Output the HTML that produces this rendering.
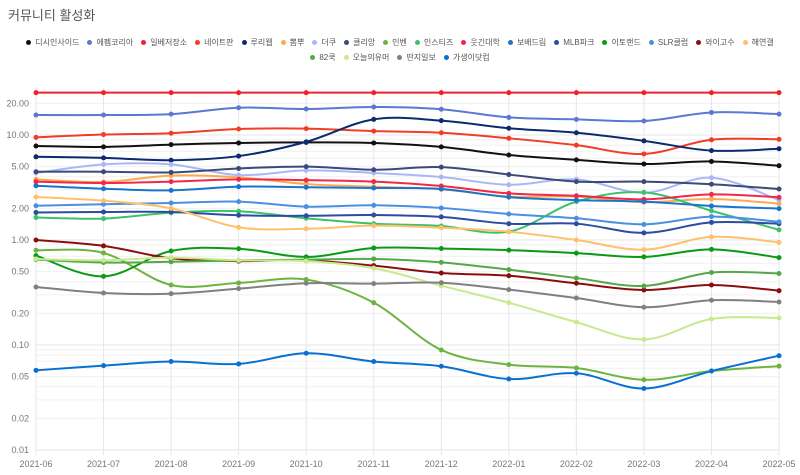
<!DOCTYPE html>
<html><head><meta charset="utf-8">
<style>
body{margin:0;background:#fff;font-family:"Liberation Sans","Noto Sans CJK KR",sans-serif;}
#wrap{position:relative;width:800px;height:475px;overflow:hidden;}
#title{position:absolute;left:8px;top:5px;font-size:13px;color:#555;}
.legrow{position:absolute;left:0;width:800px;display:flex;justify-content:center;gap:8px;font-size:8px;color:#555;}
.li{display:flex;align-items:center;gap:4px;white-space:nowrap;cursor:pointer;}
.dot{width:5px;height:5px;border-radius:50%;display:inline-block;}
</style></head><body>
<div id="wrap">
<div id="title">커뮤니티 활성화</div>
<div class="legrow" id="leg1" style="top:37px"></div>
<div class="legrow" id="leg2" style="top:52px"></div>
<svg id="svg" width="800" height="475" style="position:absolute;left:0;top:0"></svg>
</div>
<script>
const categories=["2021-06","2021-07","2021-08","2021-09","2021-10","2021-11","2021-12","2022-01","2022-02","2022-03","2022-04","2022-05"];
const seriesNames=["디시인사이드","에펨코리아","일베저장소","네이트판","루리웹","뽐뿌","더쿠","클리앙","인벤","인스티즈","웃긴대학","보배드림","MLB파크","이토랜드","SLR클럽","와이고수","해연갤","82쿡","오늘의유머","딴지일보","가생이닷컴"];
const seriesColors=["#111111","#5b78d2","#f0202f","#f23d26","#0b2a6f","#ffa94d","#a9b8f5","#3b4a7a","#6db33f","#3cc26a","#f0284a","#1a74c9","#2c4ca0","#0a9a14","#4a90e2","#8b0e0e","#ffc06b","#55a84a","#c8ea8c","#808080","#0a70d0"];
const vDc=[7.86,7.7,8.1,8.4,8.5,8.4,7.7,6.45,5.8,5.3,5.6,5.1];
const vFm=[15.5,15.5,15.8,18.2,17.7,18.5,17.6,14.7,14.1,13.6,16.4,15.8];
const vIlbe=[25.3,25.3,25.3,25.3,25.3,25.3,25.3,25.3,25.3,25.3,25.3,25.3];
const vPann=[9.5,10.1,10.4,11.4,11.5,10.9,10.5,9.3,8.0,6.6,9.0,9.1];
const vRuli=[6.2,6.05,5.75,6.3,8.6,14.1,13.7,11.6,10.5,8.8,7.1,7.4];
const vPpom=[3.78,3.57,4.1,3.95,3.41,3.22,3.04,2.59,2.59,2.29,2.46,2.22];
const vTheqoo=[4.35,5.25,5.25,4.15,4.6,4.35,3.98,3.36,3.78,2.82,3.92,2.4];
const vClien=[4.47,4.47,4.4,4.8,5.0,4.67,4.95,4.2,3.6,3.6,3.4,3.06];
const vInven=[0.798,0.752,0.373,0.39,0.42,0.253,0.0897,0.065,0.0604,0.0467,0.0565,0.063];
const vInstiz=[1.64,1.6,1.82,1.88,1.61,1.43,1.36,1.2,2.32,2.84,1.9,1.25];
const vHumor=[3.6,3.49,3.6,3.78,3.72,3.6,3.27,2.78,2.64,2.44,2.72,2.55];
const vBobae=[3.29,3.08,2.97,3.22,3.18,3.13,3.06,2.56,2.4,2.32,2.11,1.99];
const vMlb=[1.83,1.85,1.85,1.72,1.7,1.73,1.66,1.43,1.43,1.17,1.47,1.43];
const vEto=[0.71,0.45,0.786,0.826,0.69,0.84,0.83,0.8,0.75,0.69,0.815,0.68];
const vSlr=[2.12,2.19,2.25,2.32,2.08,2.14,2.02,1.77,1.61,1.41,1.67,1.49];
const vYgosu=[1.0,0.88,0.67,0.63,0.64,0.57,0.485,0.457,0.387,0.334,0.373,0.329];
const vHygall=[2.57,2.37,2.0,1.32,1.28,1.37,1.31,1.2,1.0,0.81,1.07,0.95];
const v82=[0.65,0.61,0.62,0.64,0.65,0.66,0.613,0.522,0.434,0.365,0.49,0.48];
const vTodayhumor=[0.66,0.64,0.68,0.64,0.63,0.54,0.367,0.253,0.165,0.113,0.177,0.181];
const vDdanzi=[0.357,0.313,0.308,0.344,0.387,0.384,0.392,0.337,0.28,0.229,0.267,0.257];
const vGasengi=[0.0574,0.0636,0.0696,0.066,0.0834,0.0696,0.0627,0.0474,0.0538,0.0385,0.0565,0.0791];
const seriesValues=[vDc,vFm,vIlbe,vPann,vRuli,vPpom,vTheqoo,vClien,vInven,vInstiz,vHumor,vBobae,vMlb,vEto,vSlr,vYgosu,vHygall,v82,vTodayhumor,vDdanzi,vGasengi];
const yTickValues=[20,10,5,2,1,0.5,0.2,0.1,0.05,0.02,0.01];
const yTickLabels=["20.00","10.00","5.00","2.00","1.00","0.50","0.20","0.10","0.05","0.02","0.01"];

const X0=36,X1=779,Y1=240,DEC=105;
function xs(i){return X0+(X1-X0)*i/(categories.length-1);}
function ys(v){return Y1-DEC*Math.log10(v);}
const NS="http://www.w3.org/2000/svg";
const svg=document.getElementById('svg');
function mk(t,a){const e=document.createElementNS(NS,t);for(const k in a)e.setAttribute(k,a[k]);return e;}
const grid=mk('g',{});


svg.appendChild(grid);
for(let d=-2;d<=1;d++){for(let m=1;m<=9;m++){const v=m*Math.pow(10,d);const y=ys(v);if(y<88)continue;
 const l=mk('line',{x1:X0,x2:X1,y1:y,y2:y,stroke:m===1?'#e6e6e6':'#f0f0f0','stroke-width':1});
 
 
 grid.appendChild(l);}}
categories.forEach((c,i)=>{const l=mk('line',{x1:xs(i),x2:xs(i),y1:88,y2:455,stroke:'#e6e6e6'});
 
 
 grid.appendChild(l);
 const t=mk('text',{x:xs(i),y:467,'text-anchor':'middle','font-size':9,fill:'#777'});t.textContent=c;
 
 
 svg.appendChild(t);});
yTickValues.forEach((v,i)=>{const t=mk('text',{x:29,y:ys(v)+3,'text-anchor':'end','font-size':9,fill:'#777'});t.textContent=yTickLabels[i];
 
 
 svg.appendChild(t);});
function pathD(pts){let d='M'+pts[0][0]+','+pts[0][1];const k=0.17;
 for(let i=0;i<pts.length-1;i++){const p0=pts[i-1]||pts[i],p1=pts[i],p2=pts[i+1],p3=pts[i+2]||p2;
  const c1=[p1[0]+(p2[0]-p0[0])*k,p1[1]+(p2[1]-p0[1])*k],c2=[p2[0]-(p3[0]-p1[0])*k,p2[1]-(p3[1]-p1[1])*k];
  d+=' C'+c1+' '+c2+' '+p2;}return d;}
seriesValues.forEach((vals,s)=>{const g=mk('g',{});
 
 
 svg.appendChild(g);
 const pts=vals.map((v,i)=>[xs(i),ys(v)]);
 const p=mk('path',{d:pathD(pts),fill:'none',stroke:seriesColors[s],'stroke-width':2});
 
 
 g.appendChild(p);
 pts.forEach(pt=>{const c=mk('circle',{cx:pt[0],cy:pt[1],r:2.5,fill:seriesColors[s]});
  
  
  g.appendChild(c);});});
seriesNames.forEach((n,i)=>{const d=document.createElement('div');d.className='li';
 
 
 d.innerHTML='<span class="dot" style="background:'+seriesColors[i]+'"></span>'+n;
 document.getElementById(i<17?'leg1':'leg2').appendChild(d);});
</script>
</body></html>
